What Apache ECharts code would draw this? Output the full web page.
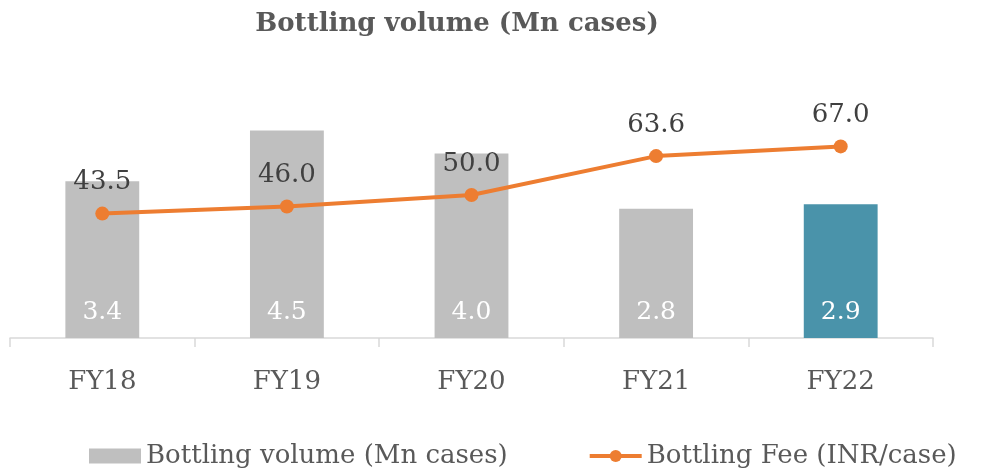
<!DOCTYPE html>
<html>
<head>
<meta charset="utf-8">
<script src="https://cdn.jsdelivr.net/npm/echarts@6/dist/echarts.min.js"></script>
<style>
  html, body { margin: 0; padding: 0; background: #fff; }
  #chart { width: 985px; height: 469px; }
</style>
</head>
<body>
<div id="chart"></div>
<script>
const years = ['FY18', 'FY19', 'FY20', 'FY21', 'FY22']
const volume = [3.4, 4.5, 4.0, 2.8, 2.9]
const fee = [43.5, 46.0, 50.0, 63.6, 67.0]

const FONT = 'DejaVu Serif'
const chart = echarts.init(document.getElementById('chart'))

chart.setOption({
  animation: false,
  textStyle: { fontFamily: FONT },
  title: {
    text: 'Bottling volume (Mn cases)',
    left: 452,
    top: 6,
    textAlign: 'center',
    textStyle: { fontFamily: FONT, fontSize: 26, fontWeight: 'bold', color: '#595959' }
  },
  legend: {
    bottom: -5,
    left: 84,
    itemGap: 80,
    itemWidth: 52,
    itemHeight: 15,
    textStyle: { fontFamily: FONT, fontSize: 26, color: '#595959' },
    data: [
      { name: 'Bottling volume (Mn cases)', icon: 'rect' },
      { name: 'Bottling Fee (INR/case)', lineStyle: { width: 4 } }
    ]
  },
  grid: { left: 10, right: 52, top: 52, bottom: 131 },
  xAxis: {
    type: 'category',
    data: years,
    axisLine: { lineStyle: { color: '#d9d9d9', width: 1.5 } },
    axisTick: { show: true, length: 9, lineStyle: { color: '#d9d9d9', width: 1.5 } },
    axisLabel: { fontFamily: FONT, fontSize: 26, color: '#595959', margin: 31 }
  },
  yAxis: [
    { type: 'value', min: 0, max: 6.2, show: false, splitLine: { show: false } },
    { type: 'value', min: 0, max: 100, show: false, splitLine: { show: false } }
  ],
  series: [
    {
      name: 'Bottling volume (Mn cases)',
      type: 'bar',
      barWidth: '40%',
      data: volume.map((v, i) => ({
        value: v,
        itemStyle: { color: i === volume.length - 1 ? '#4a93aa' : '#bfbfbf' }
      })),
      itemStyle: { color: '#bfbfbf' },
      label: {
        show: true,
        position: 'insideBottom',
        distance: 13,
        formatter: p => p.value.toFixed(1),
        fontFamily: FONT,
        fontSize: 25,
        color: '#ffffff'
      }
    },
    {
      name: 'Bottling Fee (INR/case)',
      type: 'line',
      yAxisIndex: 1,
      data: fee,
      symbol: 'circle',
      symbolSize: 14,
      lineStyle: { color: '#ed7d31', width: 4 },
      itemStyle: { color: '#ed7d31' },
      label: {
        show: true,
        position: 'top',
        distance: 11,
        formatter: p => p.value.toFixed(1),
        fontFamily: FONT,
        fontSize: 26,
        color: '#404040'
      }
    }
  ]
})
</script>
</body>
</html>
